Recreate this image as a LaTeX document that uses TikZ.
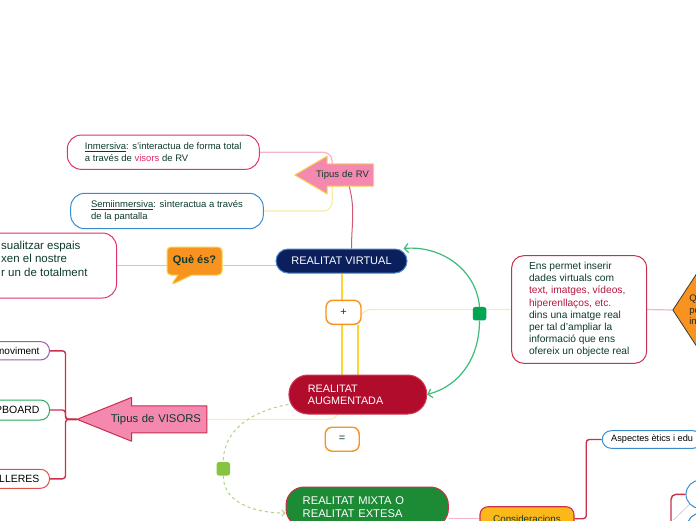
\documentclass[tikz,border=0pt]{standalone}
\usepackage{fontspec}
\setmainfont{Liberation Sans}
\usetikzlibrary{arrows.meta,shapes.geometric,shapes.callouts}
\pgfdeclarelayer{links}
\pgfsetlayers{links,main}

\definecolor{ink}{HTML}{0E3B2E}
\definecolor{visorpink}{HTML}{E0266B}
\definecolor{redtxt}{HTML}{B8163B}
\definecolor{pinkborder}{HTML}{E0356B}
\definecolor{blueborder}{HTML}{3A8CD0}
\definecolor{crimson}{HTML}{C8304C}
\definecolor{linkpink}{HTML}{F4B3C6}
\definecolor{linkyellow}{HTML}{FDEBA8}
\definecolor{brightyellow}{HTML}{FCD535}
\definecolor{linkgreen}{HTML}{3DBB78}
\definecolor{lightgreen}{HTML}{A9D77A}
\definecolor{squaregreen}{HTML}{00A651}
\definecolor{lightsquare}{HTML}{86C440}
\definecolor{navy}{HTML}{0A1F5C}
\definecolor{rvborder}{HTML}{4A86C8}
\definecolor{augred}{HTML}{B20C2D}
\definecolor{augborder}{HTML}{D23A55}
\definecolor{mixgreen}{HTML}{1D8A36}
\definecolor{amber}{HTML}{FBB81B}
\definecolor{orangemap}{HTML}{F7931E}
\definecolor{yellowborder}{HTML}{F8D44C}
\definecolor{arrowpink}{HTML}{F488AE}
\definecolor{purpleborder}{HTML}{9A5CB4}
\definecolor{greenborder}{HTML}{2DAA5E}
\definecolor{redborder}{HTML}{E2504C}
\definecolor{darkline}{HTML}{3A3A3A}
\definecolor{grayline}{HTML}{C8C8C8}

\begin{document}
\begin{tikzpicture}[x=1pt, y=-1pt,
  note/.style={draw, fill=white, line width=1pt, text=ink, align=left, rounded corners=14pt, font=\fontsize{9.5}{11.6}\selectfont},
  topic/.style={draw, line width=1pt, text=white, align=left, font=\fontsize{11}{12.3}\selectfont},
  stub/.style={draw, fill=white, line width=1pt, rounded corners=9pt, text=black, anchor=east, inner xsep=10pt},
  signbox/.style={draw=orangemap, fill=white, line width=1.4pt, rounded corners=7pt, minimum width=35pt, minimum height=24pt, text=ink, font=\fontsize{11}{12}\selectfont},
  arrowbox/.style={inner ysep=0pt, align=right, text=ink},
  dot/.style={minimum size=13.5pt, inner sep=0pt, rounded corners=2.5pt},
  pinkline/.style={draw=linkpink, line width=1.2pt},
  yellowline/.style={draw=linkyellow, line width=1.2pt},
  yellowthick/.style={draw=brightyellow, line width=2pt},
  crimsonline/.style={draw=crimson, line width=1.4pt, rounded corners=3pt},
  greenarrow/.style={draw=linkgreen, line width=1.2pt, -{Straight Barb[length=4pt,width=9pt]}},
  dashgreen/.style={draw=lightgreen, line width=1pt, dash pattern=on 3pt off 3pt}
]
\useasboundingbox (0,0) rectangle (696,520);

% left branch
\node[note, draw=pinkborder, minimum width=192pt, minimum height=34.3pt] (inmers) at (163.3,152.2) {\underline{Inmersiva}: s'interactua de forma total\\a través de \textcolor{visorpink}{visors} de RV};
\node[note, draw=blueborder, minimum width=192.6pt, minimum height=35.4pt] (semi) at (167,211) {\underline{Semiinmersiva}: sìnteractua a través\\de la pantalla};
\node[arrowbox, minimum height=22pt, text width=69.7pt, inner xsep=4.3pt, font=\fontsize{9.5}{11}\selectfont] (tipusrv) at (334.15,175) {Tipus de RV};
\node[note, draw=pinkborder, anchor=east, inner xsep=29pt, minimum height=65pt, font=\fontsize{11.5}{13.6}\selectfont] (descrv) at (117,265.5) {sualitzar espais\\xen el nostre\\r un de totalment\\\mbox{}};
\node[rectangle callout, fill=orangemap, draw=yellowborder, line width=1pt, rounded corners=4pt, minimum width=55pt, minimum height=28pt, callout absolute pointer={(171,285)}, callout pointer width=14pt, text=ink, font=\bfseries\fontsize{11}{13}\selectfont] (quees) at (194.5,261) {Què és?};

% central column
\node[topic, fill=navy, draw=rvborder, rounded corners=12pt, minimum width=131pt, minimum height=24pt, align=center] (rv) at (341.5,261) {REALITAT VIRTUAL};
\node[signbox] (plus) at (343.5,312.3) {+};
\node[topic, fill=augred, draw=augborder, rounded corners=19pt, minimum width=137.7pt, minimum height=39pt, text width=100pt, font=\fontsize{10.8}{12.3}\selectfont] (aug) at (357.8,394.5) {REALITAT\\AUGMENTADA};
\node[signbox, minimum width=34pt] (equal) at (342.2,439.2) {=};
\node[topic, fill=mixgreen, draw=crimson, rounded corners=18pt, minimum width=162.3pt, minimum height=40pt, text width=129pt, font=\fontsize{11.2}{13.3}\selectfont] (mixta) at (367.2,507) {REALITAT MIXTA O\\REALITAT EXTESA};
\node[dot, fill=squaregreen] (gsq) at (479.5,313.7) {};
\node[dot, fill=lightsquare] (lsq) at (223.3,468.8) {};

% visors
\node[arrowbox, minimum height=26.7pt, text width=118pt, inner xsep=5.7pt, font=\fontsize{11.3}{13}\selectfont] (visors) at (142,419.35) {Tipus de VISORS};
\node[stub, draw=purpleborder, minimum height=18.3pt, font=\fontsize{10}{12}\selectfont] (mov) at (50,350.8) {moviment};
\node[stub, draw=greenborder, minimum height=20pt, font=\fontsize{10.5}{12}\selectfont] (pboard) at (50,410) {PBOARD};
\node[stub, draw=redborder, minimum height=19pt, font=\fontsize{10.5}{12}\selectfont] (ulleres) at (50,478.8) {ULLERES};

% right branch
\node[note, draw=crimson, minimum width=135pt, minimum height=107.6pt, rounded corners=12pt, font=\fontsize{10.2}{12.1}\selectfont] (ens) at (579.2,309.5) {Ens permet inserir\\dades virtuals com\\\textcolor{redtxt}{text, imatges, vídeos,}\\\textcolor{redtxt}{hiperenllaços, etc.}\\dins una imatge real\\per tal d'ampliar la\\informació que ens\\ofereix un objecte real};
\node[diamond, draw=darkline, fill=orangemap, line width=0.8pt, minimum width=80pt, minimum height=122pt, inner sep=0pt, text width=46.8pt, align=left, text=black!85, font=\fontsize{9.5}{11.5}\selectfont] (diam) at (712.7,310) {Q\\pe\\in};

% bottom right
\node[draw=crimson, fill=amber, line width=1.1pt, rounded corners=8pt, minimum width=94pt, minimum height=24pt, text=ink, font=\fontsize{9.8}{11}\selectfont] (consid) at (527,518.7) {Consideracions};
\node[stub, draw=blueborder, anchor=west, inner xsep=9pt, minimum height=17.6pt, font=\fontsize{9.2}{11}\selectfont] (aspect) at (601.7,439.5) {Aspectes ètics i edu};
\node[circle, draw=blueborder, fill=white, line width=1pt, minimum size=28pt, inner sep=0pt] (circ1) at (700,494.3) {};
\node[circle, draw=blueborder, fill=white, line width=1pt, minimum size=28pt, inner sep=0pt] (circ2) at (701,527) {};
\coordinate (brk) at (671,530);
\coordinate (gfoot) at (673.3,520);

\begin{pgfonlayer}{links}
\fill[white] (0,0) rectangle (696,520);
% connectors
\draw[pinkline, rounded corners=9pt] (inmers.east) -| ([xshift=-2pt]tipusrv.center);
\draw[yellowline, rounded corners=9pt] (semi.east) -| ([xshift=-2pt]tipusrv.center);
\draw[draw=crimson!80, line width=1pt] ([xshift=15pt]tipusrv.south) to[out=-75,in=90] ([xshift=10pt]rv.north);
\draw[pinkline] (rv.west |- descrv.east) -- (quees.east |- descrv.east);
\draw[pinkline] (quees.west |- descrv.east) -- (descrv.east);
\draw[yellowthick] (rv.south) -- (rv.south |- aug.north);
\draw[yellowline, rounded corners=14pt] (aug.north) |- (ens.west);
\draw[yellowthick] (aug.north) -- (aug.north |- plus.south);
\draw[yellowline, rounded corners=8pt] (visors.east) -| ([xshift=-20pt]aug.south);
\draw[greenarrow] (gsq.north) to[out=95,in=5] ([xshift=-4pt]rv.north east);
\draw[greenarrow] (gsq.south) to[out=-90,in=15] (aug.east);
\draw[dashgreen] ([yshift=-10pt]aug.west) to[out=190,in=90] (lsq.north);
\draw[dashgreen, -{Straight Barb[length=3pt,width=6pt]}] (lsq.south) to[out=-90,in=180] ([yshift=-6pt]mixta.west);
\draw[crimsonline] (visors.west) -- ++(-11.6,0) |- (mov.east);
\draw[crimsonline] (visors.west) -- ++(-11.6,0) |- (pboard.east);
\draw[crimsonline] (visors.west) -- ++(-11.6,0) |- (ulleres.east);
\draw[pinkline] (ens.east) -- (diam.west);
\draw[pinkline] (consid.west) -- (consid.west -| mixta.east);
\draw[crimsonline] (consid.east) -- ++(11.7,0) |- (aspect.west);
\draw[crimsonline, rounded corners=5pt] (brk) |- (circ1.west);
\draw[draw=grayline, line width=0.6pt] (gfoot) -- (circ1);
% arrow shapes
\draw[fill=arrowpink, draw=yellowborder, line width=1pt, line join=round]
  (tipusrv.north east) -- (tipusrv.south east) -- ([xshift=32.3pt]tipusrv.south west)
  -- ([xshift=32.3pt,yshift=-7.7pt]tipusrv.south west) -- (tipusrv.west)
  -- ([xshift=32.3pt,yshift=7.7pt]tipusrv.north west) -- ([xshift=32.3pt]tipusrv.north west) -- cycle;
\draw[fill=arrowpink, draw=crimson, line width=1pt, line join=round]
  (visors.north east) -- (visors.south east) -- ([xshift=54.4pt]visors.south west)
  -- ([xshift=54.4pt,yshift=-8.3pt]visors.south west) -- (visors.west)
  -- ([xshift=54.4pt,yshift=8.3pt]visors.north west) -- ([xshift=54.4pt]visors.north west) -- cycle;
\end{pgfonlayer}
\end{tikzpicture}
\end{document}
